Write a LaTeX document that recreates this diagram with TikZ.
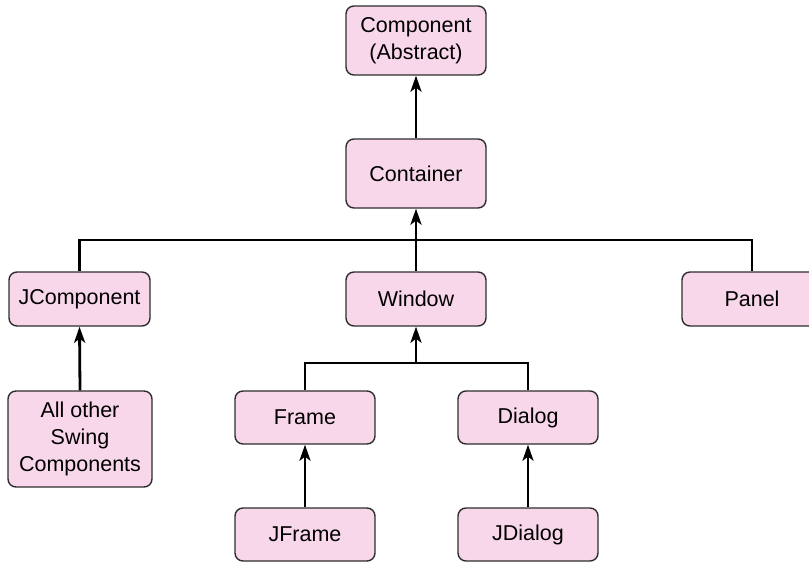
\documentclass[tikz,border=0pt]{standalone}
\usepackage{fontspec}
\setmainfont{Liberation Sans}
\usetikzlibrary{arrows.meta}
\definecolor{boxfill}{HTML}{F9D7EA}
\definecolor{boxline}{HTML}{2E2E2E}
\tikzset{
  cls/.style={draw=boxline, line width=1.4pt, fill=boxfill, rounded corners=8pt,
    inner sep=0pt, minimum width=140pt, minimum height=54pt, align=center,
    font=\fontsize{21.5}{27}\selectfont},
  wire/.style={line width=2.8pt, black},
  conn/.style={wire, -{Stealth[length=16pt,width=11pt,inset=4pt]}}
}
\begin{document}
\begin{tikzpicture}[x=1pt,y=-1pt]
\useasboundingbox (0,0) rectangle (809,562);
\node[cls, minimum height=69pt] (comp) at (416,40.5) {Component\\(Abstract)};
\node[cls, minimum height=69pt] (cont) at (416,173.5) {Container};
\node[cls, minimum width=141pt] (jcomp) at (79.5,299) {JComponent};
\node[cls] (win) at (416,299) {Window};
\node[cls] (panel) at (752,299) {Panel};
\node[cls, minimum width=144pt, minimum height=96pt] (other) at (80,439) {All other\\Swing\\Components};
\node[cls, minimum height=53pt] (frame) at (305,417.5) {Frame};
\node[cls, minimum height=53pt] (dialog) at (528,417.5) {Dialog};
\node[cls, minimum height=53pt] (jframe) at (305,534.5) {JFrame};
\node[cls, minimum height=53pt] (jdialog) at (528,534.5) {JDialog};
\coordinate (bus1) at (416,240);
\coordinate (bus2) at (416,363);
% top arrow
\draw[conn] (cont.north) -- (comp.south);
% bus to container
\draw[wire, line join=miter] (jcomp.north) -- (jcomp.north |- bus1) -- (panel.north |- bus1) -- (panel.north);
\draw[conn] (win.north) -- (cont.south);
% window bus
\draw[wire, line join=miter] (frame.north) -- (frame.north |- bus2) -- (dialog.north |- bus2) -- (dialog.north);
\draw[conn] (bus2) -- (win.south);
% leaves
\draw[conn] (other.north) -- (jcomp.south);
\draw[conn] (jframe.north) -- (frame.south);
\draw[conn] (jdialog.north) -- (dialog.south);
\end{tikzpicture}
\end{document}
